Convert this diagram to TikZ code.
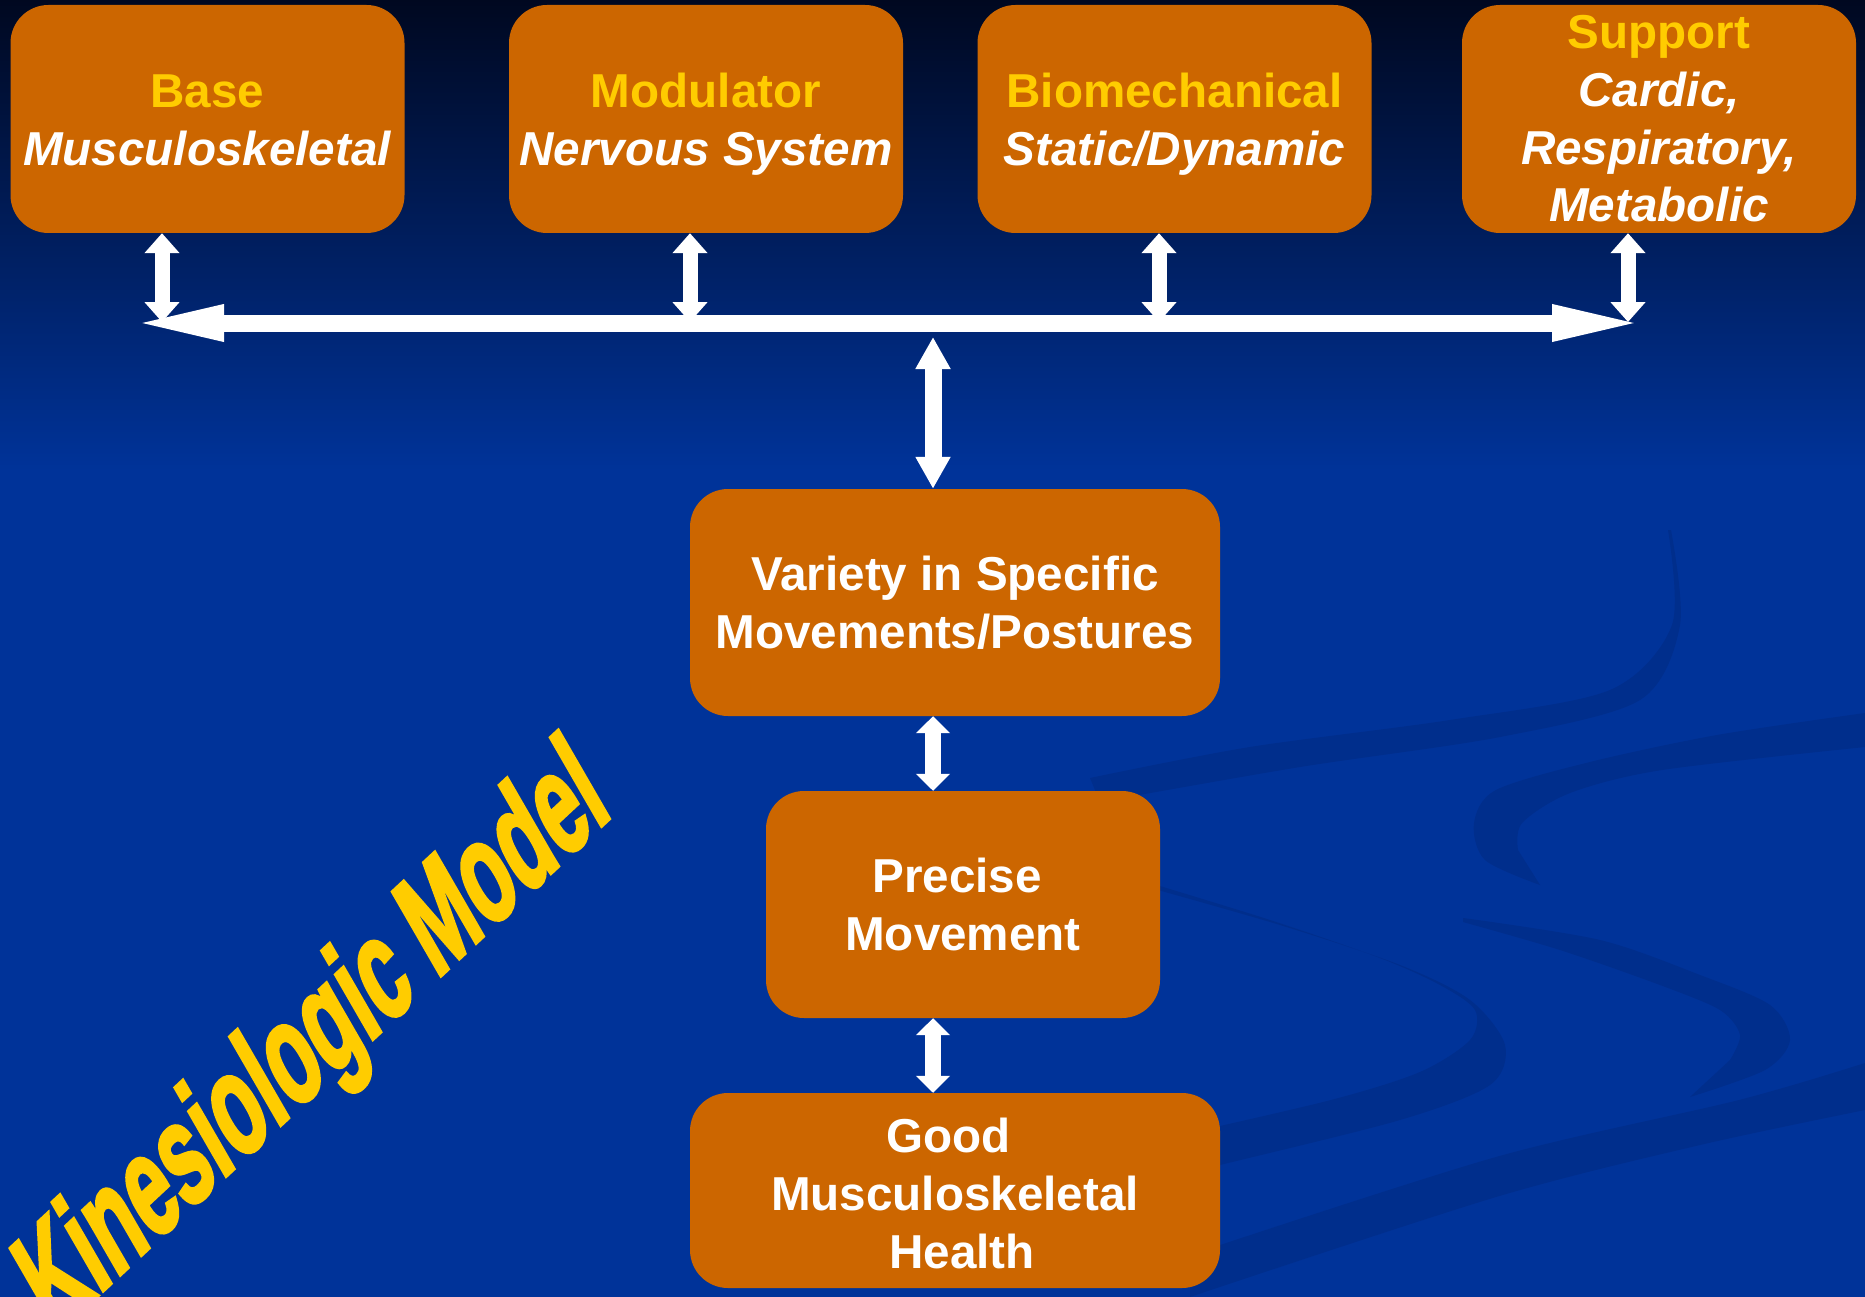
\documentclass[tikz,border=0pt]{standalone}
\usepackage{fontspec}
\setmainfont{Liberation Sans}
\newfontfamily\kfont[FakeBold=3]{Liberation Sans}
\usetikzlibrary{arrows.meta}
\definecolor{bgblue}{RGB}{0,51,153}
\definecolor{bgtop}{RGB}{0,8,32}
\definecolor{swoosh}{RGB}{0,46,140}
\definecolor{boxorange}{RGB}{204,102,0}
\definecolor{titleyellow}{RGB}{255,204,0}
\begin{document}
\begin{tikzpicture}[x=1pt,y=-1pt,
  box/.style={rounded corners=38pt, fill=boxorange, text=white, align=center, inner sep=0pt,
    font=\bfseries\fontsize{47.6pt}{57.7pt}\selectfont},
  topbox/.style={box, minimum width=394pt, minimum height=228pt},
  twoline/.style={text height=92.5pt, text depth=0pt},
  smallarr/.style={draw=white, line width=15pt, {Triangle[length=20pt,width=34pt]}-{Triangle[length=20pt,width=34pt]}},
  bararr/.style={draw=white, line width=17pt, {Triangle[length=96pt,width=32pt]}-{Triangle[length=96pt,width=32pt]}},
  midarr/.style={draw=white, line width=17pt, {Triangle[length=32pt,width=33pt]}-{Triangle[length=32pt,width=33pt]}},
  shortarr/.style={draw=white, line width=16pt, {Triangle[length=17pt,width=33pt]}-{Triangle[length=17pt,width=33pt]}},
  swooshfill/.style={fill=swoosh}
]
\useasboundingbox (0,0) rectangle (1865,1297);
% background
\fill[bgblue] (0,0) rectangle (1865,1297);
\shade[top color=bgtop, bottom color=bgblue] (0,0) rectangle (1865,470);
% swooshes
\fill[swooshfill] plot[smooth] coordinates {(1090,778) (1250,747) (1450,720) (1610,690) (1672,625) (1668,530)}
  -- plot[smooth] coordinates {(1671,530) (1680,625) (1640,700) (1500,737) (1300,767) (1100,802)} -- cycle;
\fill[swooshfill] plot[smooth] coordinates {(1865,713) (1717,735) (1590,762) (1496,790) (1474,823) (1485,860) (1540,885)}
  -- plot[smooth] coordinates {(1518,850) (1522,823) (1570,793) (1662,770) (1865,747)} -- cycle;
\fill[swooshfill] plot[smooth] coordinates {(1140,885) (1280,925) (1400,965) (1470,1000) (1505,1045) (1490,1085) (1400,1120) (1220,1165) (1180,1175)}
  -- plot[smooth] coordinates {(1180,1135) (1331,1100) (1420,1072) (1470,1040) (1475,1010) (1440,985) (1380,958) (1270,920) (1140,880)} -- cycle;
\fill[swooshfill] plot[smooth] coordinates {(1463,918) (1600,940) (1700,975) (1770,1005) (1790,1040) (1765,1070) (1690,1097)}
  -- plot[smooth] coordinates {(1730,1060) (1740,1035) (1720,1010) (1660,985) (1560,950) (1463,922)} -- cycle;
\fill[swooshfill] plot[smooth] coordinates {(1190,1255) (1496,1157) (1739,1100) (1865,1063)}
  -- plot[smooth] coordinates {(1865,1110) (1700,1145) (1496,1197) (1190,1297)} -- cycle;
% boxes
\node[topbox, twoline] (base) at (207.5,119) {\textcolor{titleyellow}{Base}\\\textit{Musculoskeletal}};
\node[topbox, twoline] (mod) at (706,119) {\textcolor{titleyellow}{Modulator}\\\textit{Nervous System}};
\node[topbox, twoline] (bio) at (1174.5,119) {\textcolor{titleyellow}{Biomechanical}\\\textit{Static/Dynamic}};
\node[topbox] (sup) at (1659,119) {\textcolor{titleyellow}{Support}\\\textit{Cardic,}\\\textit{Respiratory,}\\\textit{Metabolic}};
\node[box, minimum width=530pt, minimum height=227pt] (var) at (955,602.5) {Variety in Specific\\Movements/Postures};
\node[box, minimum width=394pt, minimum height=227pt] (pre) at (963,904.5) {Precise\kern12pt\\Movement};
\node[box, minimum width=530pt, minimum height=195pt, text height=155pt, text depth=0pt] (good) at (955,1190.5) {Good\kern13pt\\Musculoskeletal\\\kern14pt Health};
% connectors
\coordinate (barL) at (128,323);
\coordinate (barR) at (1648,323);
\draw[bararr] (barL) -- (barR);
\coordinate (j1) at (162,322);
\coordinate (j2) at (690,322);
\coordinate (j3) at (1159,322);
\coordinate (j4) at (1628,322);
\draw[smallarr] (j1 |- base.south) -- (j1);
\draw[smallarr] (j2 |- mod.south) -- (j2);
\draw[smallarr] (j3 |- bio.south) -- (j3);
\draw[smallarr] (j4 |- sup.south) -- (j4);
\coordinate (c0) at (933,337);
\draw[midarr] (c0) -- (c0 |- var.north);
\draw[shortarr] (var.south -| c0) -- (pre.north -| c0);
\draw[shortarr] (pre.south -| c0) -- (good.north -| c0);
% title
\node[anchor=base east, inner sep=0pt, text=titleyellow,
  font=\kfont\bfseries\fontsize{100pt}{100pt}\selectfont,
  rotate=43, xscale=0.84, yscale=1.364, xslant=0.375] (title) at (614,814) {Kinesiologic Model};
\end{tikzpicture}
\end{document}
